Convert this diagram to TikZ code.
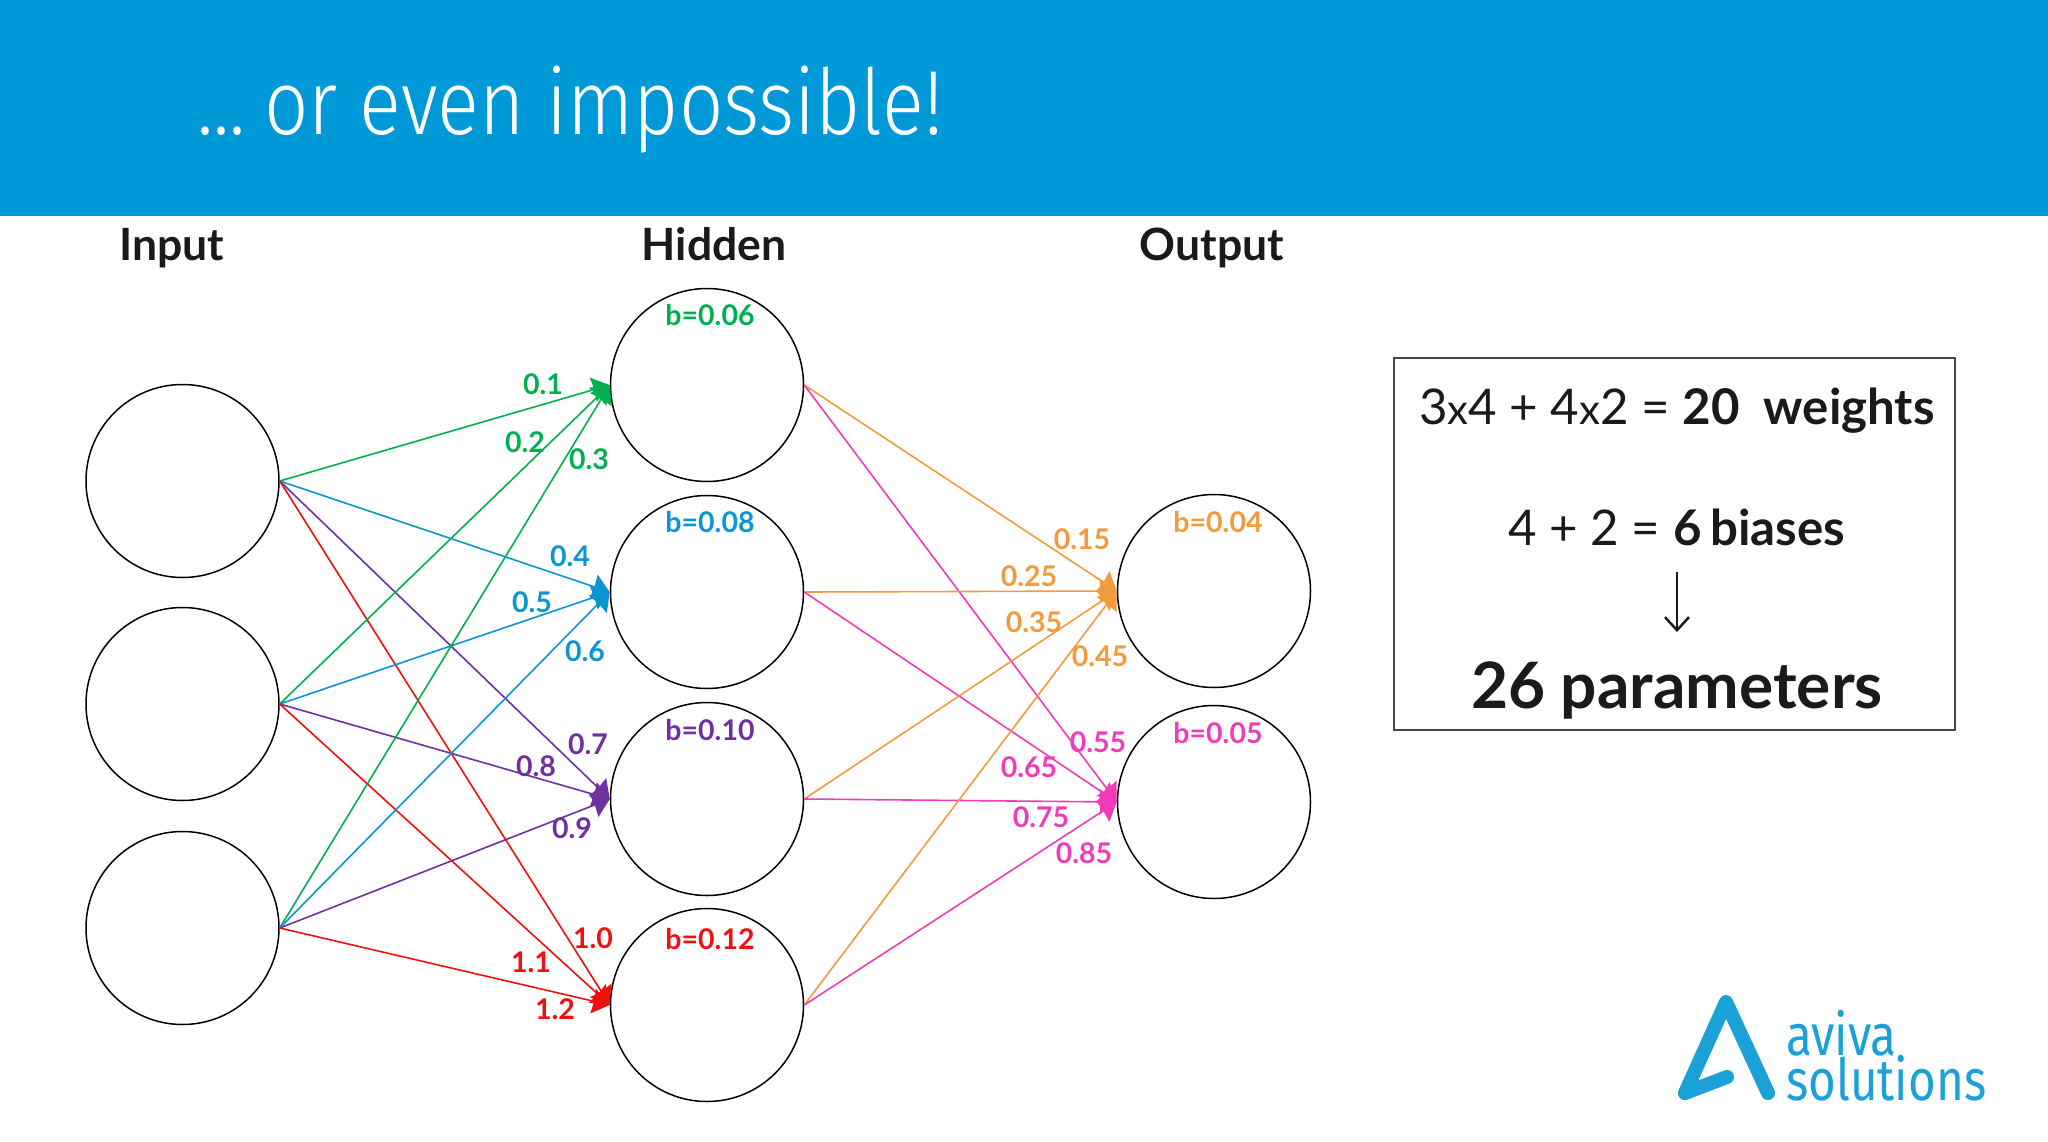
\documentclass[tikz,border=0pt]{standalone}
\usepackage{fontspec}
\usetikzlibrary{arrows.meta}
\setmainfont{Lato}
\newfontfamily\titlefont[FakeStretch=0.855]{Fira Sans Light}
\newfontfamily\logofont[FakeStretch=0.82]{Fira Sans}
\definecolor{band}{HTML}{0099D8}
\definecolor{cgreen}{HTML}{00B050}
\definecolor{cblue}{HTML}{0A96D2}
\definecolor{cpurple}{HTML}{7030A0}
\definecolor{cred}{HTML}{F01010}
\definecolor{corange}{HTML}{F29B3E}
\definecolor{cpink}{HTML}{F03CB8}
\definecolor{inkc}{HTML}{1A1A1A}
\definecolor{logoblue}{HTML}{1BA0D8}
\tikzset{
  neuron/.style={circle,draw=black,line width=1.5pt,minimum size=193pt,inner sep=0pt},
  edge/.style={line width=1.6pt,-{Stealth[length=17pt,width=25pt,inset=1pt]}},
  wlabel/.style={font=\fontsize{28.5}{28.5}\selectfont\bfseries,inner sep=0pt},
  blabel/.style={font=\fontsize{28.5}{28.5}\selectfont\bfseries,inner sep=0pt},
  header/.style={font=\fontsize{44.5}{44.5}\selectfont\bfseries,text=inkc,inner sep=0pt,anchor=base},
  boxtext/.style={text=inkc,inner sep=0pt,anchor=base},
  logostroke/.style={draw=logoblue,line width=14pt,line cap=round,line join=round},
  logotext/.style={text=logoblue,inner sep=0pt,anchor=base west,font=\logofont\fontsize{58}{58}\selectfont},
}
\begin{document}
\begin{tikzpicture}[x=1pt,y=-1pt]
\useasboundingbox (0,0) rectangle (2048,1141);
\fill[band] (0,0) rectangle (2048,216);
\node[text=white,inner sep=0pt,anchor=base west,font=\titlefont\fontsize{91}{91}\selectfont] (title) at (197,134) {...\hspace{19pt}or even impossible!};
\node[header] (hI) at (172,260) {Input};
\node[header] (hH) at (714,260) {Hidden};
\node[header] (hO) at (1212,260) {Output};
\node[neuron] (I1) at (182.5,481) {};
\node[neuron] (I2) at (182.5,704) {};
\node[neuron] (I3) at (182.5,928) {};
\node[neuron] (H1) at (707,385) {};
\node[neuron] (H2) at (707,592) {};
\node[neuron] (H3) at (707,799) {};
\node[neuron] (H4) at (707,1005) {};
\node[neuron] (O1) at (1214,591) {};
\node[neuron] (O2) at (1214,802) {};
\foreach \a in {1,2,3}{
  \draw[edge,cgreen] (I\a.east) -- (H1.west);
  \draw[edge,cblue] (I\a.east) -- (H2.west);
  \draw[edge,cpurple] (I\a.east) -- (H3.west);
  \draw[edge,cred] (I\a.east) -- (H4.west);
}
\foreach \a in {1,2,3,4}{
  \draw[edge,corange] (H\a.east) -- (O1.west);
  \draw[edge,cpink] (H\a.east) -- (O2.west);
}
\foreach \t/\x/\y/\c [count=\i] in {
 0.1/543/384/cgreen,0.2/525/442/cgreen,0.3/589/459/cgreen,
 0.4/570/556/cblue,0.5/532/602/cblue,0.6/585/651/cblue,
 0.7/588/744/cpurple,0.8/536/766/cpurple,0.9/572/828/cpurple,
 1.0/593/938/cred,1.1/531/962/cred,1.2/555/1009/cred,
 0.15/1082/539/corange,0.25/1029/576/corange,0.35/1034/622/corange,0.45/1100/656/corange,
 0.55/1098/742/cpink,0.65/1029/767/cpink,0.75/1041/817/cpink,0.85/1084/853/cpink}{
  \node[wlabel,text=\c] (w\i) at (\x,\y) {\t};
}
\foreach \t/\x/\y/\c [count=\i] in {
 0.06/710/315/cgreen,0.08/710/522/cblue,0.10/710/730/cpurple,0.12/710/939/cred,
 0.04/1218/522/corange,0.05/1218/733/cpink}{
  \node[blabel,text=\c] (b\i) at (\x,\y) {b=\t};
}
\draw[line width=1.5pt,draw=inkc!80] (1394,358) rectangle (1955,730);
\node[boxtext,font=\fontsize{49.2}{49.2}\selectfont] (t1) at (1677,424) {3{\fontsize{42}{42}\selectfont x}4 + 4{\fontsize{42}{42}\selectfont x}2 = \textbf{20\ \ weights}};
\node[boxtext,font=\fontsize{49.2}{49.2}\selectfont] (t2) at (1677,545) {4 + 2 = \textbf{6\hspace{9pt}biases}};
\coordinate (a1) at (1677,572);
\coordinate (a2) at (1677,632);
\draw[line width=2.5pt,inkc,-{Straight Barb[length=13pt,width=24pt]}] (a1) -- (a2);
\node[boxtext,font=\fontsize{64}{64}\selectfont\bfseries] (t3) at (1677,708) {26 parameters};
% logo
\draw[logostroke] (1685,1093) -- (1726,1002) -- (1768,1093);
\draw[logostroke] (1685,1093) -- (1727,1077);
\node[logotext] (l1) at (1786,1055) {aviva};
\node[logotext] (l2) at (1786,1100) {solutions};
\end{tikzpicture}
\end{document}
